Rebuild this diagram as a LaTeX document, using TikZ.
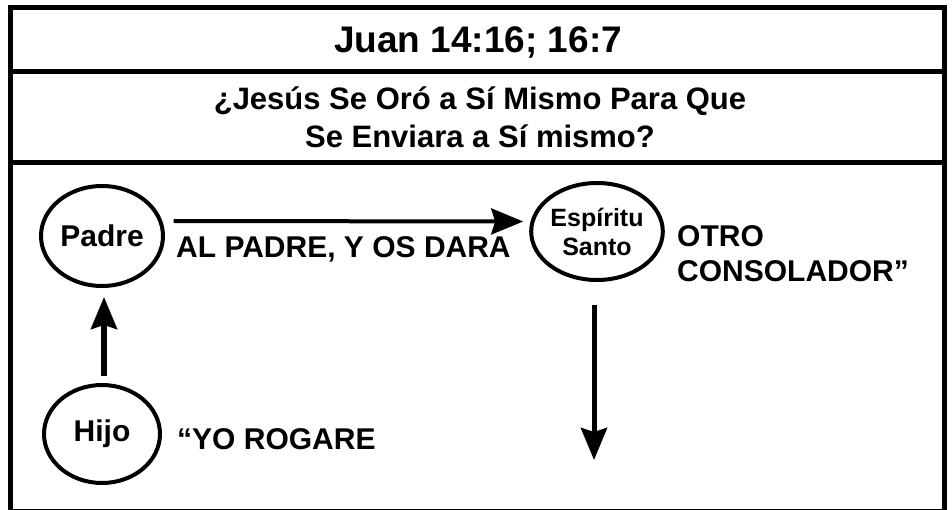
\documentclass[tikz,border=0pt]{standalone}
\usepackage{fontspec}
\setmainfont{Liberation Sans}
\usetikzlibrary{calc,arrows.meta,shapes.geometric}
\tikzset{
	persona/.style={draw, ellipse, line width=4pt, inner sep=0pt, font=\fontsize{30}{36}\selectfont\bfseries},
	rotulo/.style={inner sep=0pt, anchor=base west, align=left, font=\fontsize{30}{35}\selectfont\bfseries},
	flecha/.style={-{Stealth[length=32pt, width=26pt, inset=4pt]}}
}

\begin{document}
\begin{tikzpicture}[x=1pt, y=-1pt]
		%%%%% START %%%%%
		\useasboundingbox (0, 0) rectangle (952, 510);
		\clip (0, 0) rectangle (952, 510);
		
		\draw[line width=5pt] (10, 7.5) rectangle (944.5, 511);
		\draw[line width=5pt] (10, 71.5) -- (944.5, 71.5);
		\draw[line width=5pt] (10, 162.5) -- (944.5, 162.5);
		
		\node[inner sep=0pt, anchor=base, font=\fontsize{37}{44}\selectfont\bfseries] (titulo) at (478, 53) {Juan 14:16; 16:7};
		\node[inner sep=0pt, anchor=base, align=center, font=\fontsize{31}{38}\selectfont\bfseries] (pregunta) at (480, 148) {¿Jesús Se Oró a Sí Mismo Para Que\\Se Enviara a Sí mismo?};
		
		\node[persona, minimum width=122pt, minimum height=100pt] (padre) at (102, 236) {Padre};
		\node[persona, minimum width=116pt, minimum height=98pt] (hijo) at (102, 434) {Hijo};
		\node[persona, minimum width=118pt, minimum height=97pt, align=center, font=\fontsize{25}{29}\selectfont\bfseries] (espiritu) at (597, 231.5) {Espíritu\\Santo};
		
		\node[rotulo] (dara) at (176, 258) {AL PADRE, Y OS DARA};
		\node[rotulo] (rogare) at (177, 449) {“YO ROGARE};
		\node[rotulo] (otro) at (677, 281.5) {OTRO\\CONSOLADOR”};
		
		\draw[flecha, line width=5.5pt] ($(hijo.north)+(2, -7)$) -- ($(padre.south)+(2, 9)$);
		\draw[flecha, line width=4pt] ($(padre.east)+(8.5, -15)$) -- ($(espiritu.west)+(-6, -10)$);
		
		\coordinate (abajo) at (594, 460);
		\draw[flecha, line width=5pt] ($(espiritu.south)+(-3, 23)$) -- (abajo);
		
		%%%%% END %%%%%
	\end{tikzpicture}
\end{document}
